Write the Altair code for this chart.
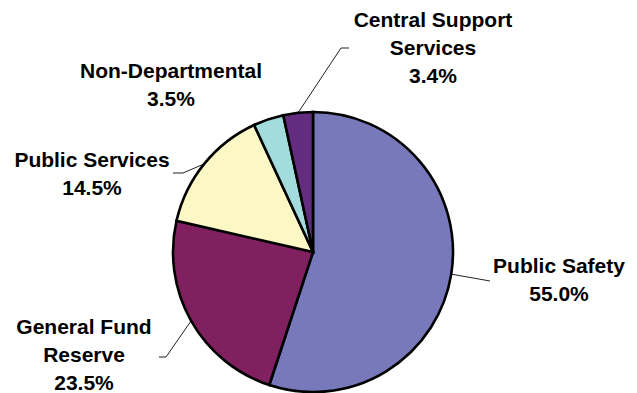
import math
import altair as alt
import pandas as pd

# ---- data ----
categories = ["Public Safety", "General Fund Reserve", "Public Services",
              "Non-Departmental", "Central Support Services"]
shares = [55.0, 23.5, 14.5, 3.5, 3.4]
colors = ["#7879BB", "#80205F", "#FBF8C5", "#A3DCDC", "#622C7F"]

# ---- layout / style (image pixel coordinates) ----
OX, OY = 8, 8            # page margin
CX, CY, R = 313, 252, 140
wrapped = {"General Fund Reserve": "General Fund\nReserve",
           "Central Support Services": "Central Support\nServices"}
label_pos = {
    "Public Safety": (559, 273),
    "General Fund Reserve": (84, 334),
    "Public Services": (92, 167),
    "Non-Departmental": (171, 78),
    "Central Support Services": (433, 27),
}
leader_tail = {
    "Public Safety": [(490, 281)],
    "General Fund Reserve": [(166, 357), (159, 357)],
    "Public Services": [(183, 173), (173, 173)],
    "Central Support Services": [(341, 48), (349, 48)],
}

pie_df = pd.DataFrame({"category": categories, "share": shares,
                       "order": list(range(len(categories)))})

total = sum(shares)
rows = []
cum = 0.0
for cat, s in zip(categories, shares):
    mid = (cum + s / 2) / total * 2 * math.pi
    cum += s
    if cat not in leader_tail:
        continue
    sx = CX + R * math.sin(mid)
    sy = CY - R * math.cos(mid)
    pts = [(sx, sy)] + leader_tail[cat]
    for i, (px, py) in enumerate(pts):
        rows.append({"category": cat, "i": i, "x": px - OX, "y": py - OY})
lead_df = pd.DataFrame(rows)

lab_df = pd.DataFrame({
    "label": [wrapped.get(c, c) + "\n" + f"{s:.1f}%" for c, s in zip(categories, shares)],
    "x": [label_pos[c][0] - OX for c in categories],
    "y": [label_pos[c][1] - OY for c in categories],
})

pie = alt.Chart(pie_df).mark_arc(radius=R, stroke="black", strokeWidth=2.6).encode(
    theta=alt.Theta("share:Q", stack=True),
    order=alt.Order("order:Q"),
    color=alt.Color("category:N", scale=alt.Scale(domain=categories, range=colors), legend=None),
    x=alt.value(CX - OX),
    y=alt.value(CY - OY),
)

leaders = alt.Chart(lead_df).mark_line(color="#222222", strokeWidth=1).encode(
    x=alt.X("x:Q", scale=None, axis=None),
    y=alt.Y("y:Q", scale=None, axis=None),
    detail="category:N",
    order="i:Q",
)

labels = alt.Chart(lab_df).mark_text(
    font="Liberation Sans", fontWeight="bold", fontSize=21, align="center",
    baseline="alphabetic", lineBreak="\n", lineHeight=28, color="black",
).encode(
    x=alt.X("x:Q", scale=None, axis=None),
    y=alt.Y("y:Q", scale=None, axis=None),
    text="label:N",
)

chart = alt.layer(leaders, pie, labels).properties(
    width=621, height=385, autosize=alt.AutoSizeParams(type="none"), padding=0,
    background="white",
).configure_view(stroke=None)

chart.save("out.html", embed_options={"renderer": "svg", "actions": False})
